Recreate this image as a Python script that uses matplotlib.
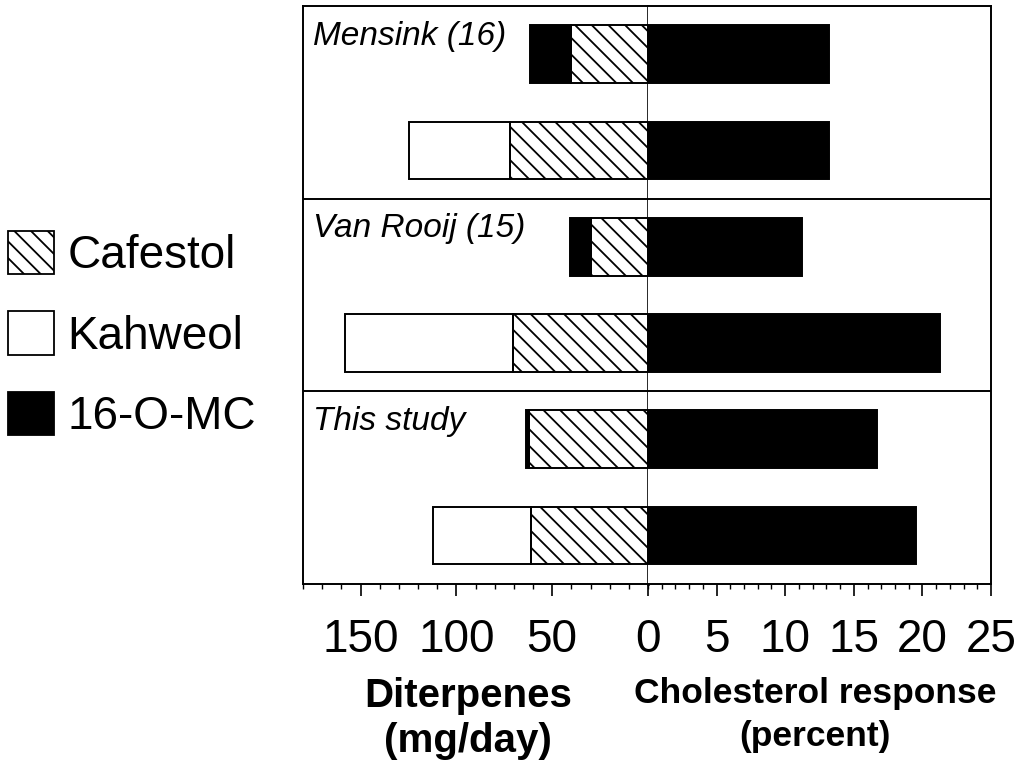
import matplotlib
matplotlib.use('Agg')
import matplotlib.pyplot as plt
import matplotlib.patches as mpatches
from matplotlib.transforms import blended_transform_factory
from matplotlib.ticker import MultipleLocator
import numpy as np

# ---- data (rows top to bottom) ----
studies = ['Mensink (16)', 'Van Rooij (15)', 'This study']
study_rows = [0, 2, 4]
cafestol = [40, 72, 29.5, 70.5, 62, 61]          # mg/day
kahweol = [0, 52.5, 0, 87.5, 0, 51]              # mg/day
omc = [21.5, 0, 11, 0, 1.5, 0]                   # 16-O-MC mg/day
cholesterol = [13.2, 13.2, 11.2, 21.3, 16.7, 19.5]  # percent
diterpene_ticks = [150, 100, 50]
cholesterol_ticks = [0, 5, 10, 15, 20, 25]
legend_labels = ['Cafestol', 'Kahweol', '16-O-MC']

plt.rcParams['font.family'] = ['Liberation Sans', 'DejaVu Sans']
plt.rcParams['hatch.linewidth'] = 1.3
plt.rcParams['hatch.color'] = 'black'

W, H = 1028, 769
fig = plt.figure(figsize=(W / 100, H / 100), dpi=100)
x0, xz, x1 = 303, 648, 991
yt, yb = 6, 583.5
axL = fig.add_axes([x0 / W, 1 - yb / H, (xz - x0) / W, (yb - yt) / H])
axR = fig.add_axes([xz / W, 1 - yb / H, (x1 - xz) / W, (yb - yt) / H])

HATCH = '\\\\'
y = np.arange(len(cafestol))
h = 0.6
lw = 1.4
axL.barh(y, cafestol, height=h, facecolor='white', edgecolor='black',
         hatch=HATCH, lw=lw)
axL.barh(y, kahweol, left=cafestol, height=h, facecolor='white',
         edgecolor='black', lw=lw)
axL.barh(y, omc, left=cafestol, height=h, facecolor='black',
         edgecolor='black', lw=lw)
axR.barh(y, cholesterol, height=h, facecolor='black', edgecolor='black', lw=lw)

axL.set_xlim(180, 0)
axR.set_xlim(0, 25)
for ax in (axL, axR):
    ax.set_ylim(5.5, -0.5)
    ax.set_yticks([])
    for s in ax.spines.values():
        s.set_linewidth(1.4)
        s.set_zorder(5)
    ax.axhline(1.5, color='black', lw=1.4)
    ax.axhline(3.5, color='black', lw=1.4)
    ax.tick_params(axis='x', which='major', length=8.6, width=1.2,
                   direction='out', labelsize=33, pad=16)
    ax.tick_params(axis='x', which='minor', length=3.6, width=1.0,
                   direction='out')
axR.spines['left'].set_visible(False)
axL.spines['right'].set_linewidth(1.9)

axL.set_xticks(diterpene_ticks)
axL.xaxis.set_minor_locator(MultipleLocator(10))
axR.set_xticks(cholesterol_ticks)
axR.xaxis.set_minor_locator(MultipleLocator(1))

trans = blended_transform_factory(axL.transAxes, axL.transData)
for name, r in zip(studies, study_rows):
    axL.text(0.029, r - 0.5 + 0.155, name, transform=trans, ha='left', va='top',
             fontsize=24, style='italic')

fig.text(468 / W, 1 - 677 / H, 'Diterpenes\n(mg/day)', ha='center', va='top',
         fontsize=29, fontweight='bold', linespacing=1.25)
fig.text(815 / W, 1 - 677 / H, 'Cholesterol response\n(percent)', ha='center',
         va='top', fontsize=25.5, fontweight='bold', linespacing=1.4)

handles = [
    mpatches.Patch(facecolor='white', edgecolor='black', hatch=HATCH, lw=1.3),
    mpatches.Patch(facecolor='white', edgecolor='black', lw=1.3),
    mpatches.Patch(facecolor='black', edgecolor='black', lw=1.3),
]
fig.legend(handles, legend_labels, loc='upper left',
           bbox_to_anchor=(8 / W, 1 - 231 / H), frameon=False, borderpad=0,
           borderaxespad=0, fontsize=33, handlelength=1.0, handleheight=1.08,
           handletextpad=0.3, labelspacing=0.72)

fig.savefig('out.png', dpi=100)
